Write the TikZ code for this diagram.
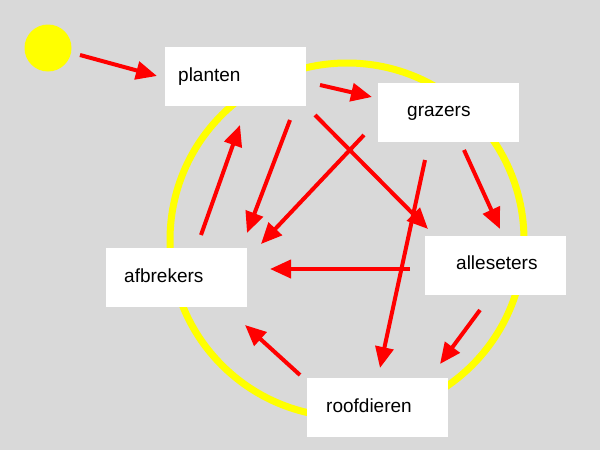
\documentclass[tikz,border=0pt]{standalone}
\usepackage{fontspec}
\setmainfont{Liberation Sans}
\usetikzlibrary{arrows.meta}
\definecolor{bg}{RGB}{217,217,217}
\definecolor{rd}{RGB}{255,0,0}
\definecolor{yl}{RGB}{255,255,0}
\begin{document}
\begin{tikzpicture}[x=1pt,y=-1pt,
  box/.style={fill=white,draw=none,minimum width=141pt,minimum height=59pt,inner sep=0pt,anchor=north west},
  lbl/.style={anchor=base west,inner sep=0pt,font=\fontsize{19}{22}\selectfont},
  flow/.style={draw=rd,line width=4pt,-{Triangle[length=21pt,width=18pt]}}]
\fill[bg] (0,0) rectangle (600,450);
\useasboundingbox (0,0) rectangle (600,450);
% ring
\draw[yl,line width=7pt] (347,240) circle[radius=177];
% sun
\fill[yl] (48,48) circle[radius=23.5];
% boxes
\node[box] (planten) at (165,47) {};
\node[box] (grazers) at (378,83) {};
\node[box] (afbrekers) at (106,248) {};
\node[box] (alleseters) at (425,236) {};
\node[box] (roofdieren) at (307,378) {};
\node[lbl] (tplanten) at (178,81) {planten};
\node[lbl] (tgrazers) at (407,116) {grazers};
\node[lbl] (tafbrekers) at (124,282) {afbrekers};
\node[lbl] (talleseters) at (456,269) {alleseters};
\node[lbl] (troofdieren) at (326,412) {roofdieren};
% arrow end points
\coordinate (s1) at (80,55);   \coordinate (e1) at (157,76);
\coordinate (s2) at (320,85);  \coordinate (e2) at (372,97);
\coordinate (s3) at (201,235); \coordinate (e3) at (240,125);
\coordinate (s4) at (290,120); \coordinate (e4) at (247,233);
\coordinate (s5) at (364,135); \coordinate (e5) at (261,244);
\coordinate (s6) at (315,115); \coordinate (e6) at (428,229);
\coordinate (s7) at (425,160); \coordinate (e7) at (380,368);
\coordinate (s8) at (464,150); \coordinate (e8) at (500,229);
\coordinate (s9) at (410,269); \coordinate (e9) at (270,269);
\coordinate (s10) at (480,310); \coordinate (e10) at (440,364);
\coordinate (s11) at (300,375); \coordinate (e11) at (245,325);
\foreach \i in {1,...,11} {\draw[flow] (s\i) -- (e\i);}
\end{tikzpicture}
\end{document}
